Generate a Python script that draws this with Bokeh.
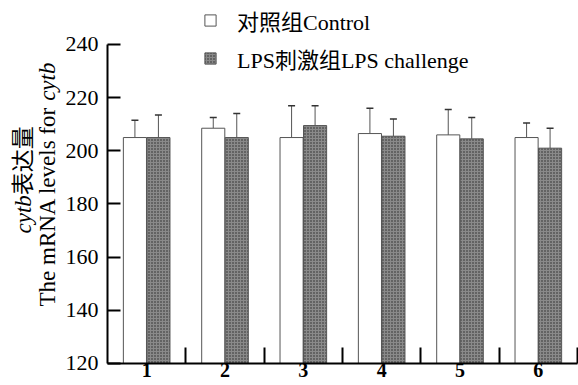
import math
from bokeh.plotting import figure
from bokeh.models import (ColumnDataSource, Range1d, FixedTicker, Whisker, TeeHead,
                          Legend, LegendItem)
from bokeh.core.properties import value
from bokeh.embed import file_html
from bokeh.resources import INLINE

# ---- data ----
groups = [1, 2, 3, 4, 5, 6]
group_labels = ["1", "2", "3", "4", "5", "6"]
control = [205.0, 208.5, 205.0, 206.5, 206.0, 205.0]
control_sd = [6.5, 4.0, 12.0, 9.5, 9.5, 5.5]
lps = [205.0, 205.0, 209.5, 205.5, 204.5, 201.0]
lps_sd = [8.5, 9.0, 7.5, 6.5, 8.0, 7.5]
y_ticks = [120, 140, 160, 180, 200, 220, 240]
y_tick_labels = ["120", "140", "160", "180", "200", "220", "240"]
series_names = ["对照组Control", "LPS刺激组LPS challenge"]

SERIF = "Liberation Serif, Noto Sans CJK SC"
offset = 0.15
bar_w = 0.295
x0 = groups[0] - 0.5          # position of the y axis
y0 = y_ticks[0]               # position of the x axis

src_c = ColumnDataSource(dict(
    x=[g - offset for g in groups], top=control,
    upper=[m + s for m, s in zip(control, control_sd)]))
src_l = ColumnDataSource(dict(
    x=[g + offset for g in groups], top=lps,
    upper=[m + s for m, s in zip(lps, lps_sd)]))

p = figure(width=578, height=385, output_backend="svg", toolbar_location=None,
           x_range=Range1d(-0.866, 6.5128), y_range=Range1d(111.72, 256.55),
           min_border_left=0, min_border_right=0, min_border_top=0,
           min_border_bottom=0)
p.outline_line_color = None
p.xgrid.grid_line_color = None
p.ygrid.grid_line_color = None

r1 = p.vbar(x="x", top="top", bottom=y0, width=bar_w, source=src_c,
            fill_color="white", line_color="#555555", line_width=1)
r2 = p.vbar(x="x", top="top", bottom=y0, width=bar_w, source=src_l,
            fill_color="#8a8a8a", line_color="#555555", line_width=1,
            hatch_pattern="dot", hatch_color="#262626", hatch_scale=3,
            hatch_weight=1.2)

for src in (src_c, src_l):
    w = Whisker(base="x", lower="top", upper="upper", source=src,
                line_color="#555555", line_width=1,
                upper_head=TeeHead(size=7, line_color="#333333", line_width=1.5),
                lower_head=None)
    p.add_layout(w)

# y axis (placed at x0 inside the full-size frame); tick marks as minor ticks
yax = p.yaxis[0]
yax.fixed_location = x0
yax.ticker = FixedTicker(ticks=[], minor_ticks=y_ticks)
yax.bounds = (y_ticks[0], y_ticks[-1])
yax.axis_line_width = 2
yax.axis_line_color = "black"
yax.major_tick_line_color = None
yax.minor_tick_in = 13
yax.minor_tick_out = 0
yax.minor_tick_line_width = 2
yax.minor_tick_line_color = "black"
yax.major_label_standoff = 0

# x axis: group separators as minor ticks
xax = p.xaxis[0]
xax.fixed_location = y0
xax.ticker = FixedTicker(ticks=[], minor_ticks=[g + 0.5 for g in groups])
xax.bounds = (x0, groups[-1] + 0.5)
xax.axis_line_width = 2
xax.axis_line_color = "black"
xax.major_tick_line_color = None
xax.minor_tick_in = 16
xax.minor_tick_out = 0
xax.minor_tick_line_width = 2
xax.minor_tick_line_color = "black"
xax.major_label_standoff = 0

# tick labels
p.text(x=[x0] * len(y_ticks), y=y_ticks, text=y_tick_labels, x_offset=-9,
       text_align="right", text_baseline="middle",
       text_font=value("Liberation Serif"), text_font_size="22px",
       text_color="black")
p.text(x=groups, y=[y0] * len(groups), text=group_labels, y_offset=0,
       text_align="center", text_baseline="top",
       text_font=value("Liberation Serif"), text_font_size="20px",
       text_font_style=value("bold"), text_color="black")

# y axis title: two rotated lines, gene name in italic
ang = math.pi / 2
fs = "23px"
p.text(x=[-0.572], y=[168.9], text=["cytb"], angle=ang, text_align="left",
       text_baseline="alphabetic", text_font=value("Liberation Serif"),
       text_font_style=value("italic"), text_font_size=fs, text_color="black")
p.text(x=[-0.572], y=[183.3], text=["表达量"], angle=ang, text_align="left",
       text_baseline="alphabetic", text_font=value(SERIF), text_font_size=fs,
       text_color="black")
p.text(x=[-0.266], y=[141.44], text=["The mRNA levels for"], angle=ang,
       text_align="left", text_baseline="alphabetic",
       text_font=value("Liberation Serif"), text_font_size=fs, text_color="black")
p.text(x=[-0.266], y=[218.8], text=["cytb"], angle=ang, text_align="left",
       text_baseline="alphabetic", text_font=value("Liberation Serif"),
       text_font_style=value("italic"), text_font_size=fs, text_color="black")

legend = Legend(items=[LegendItem(label=series_names[0], renderers=[r1]),
                       LegendItem(label=series_names[1], renderers=[r2])],
                location=(203, 311.5), padding=0, margin=0, spacing=6,
                glyph_width=14, glyph_height=14, label_height=26,
                label_standoff=20, border_line_color=None,
                background_fill_alpha=0,
                label_text_font=SERIF, label_text_font_size="22px",
                label_text_color="black")
p.add_layout(legend)

open("out.html", "w").write(file_html(p, INLINE))
